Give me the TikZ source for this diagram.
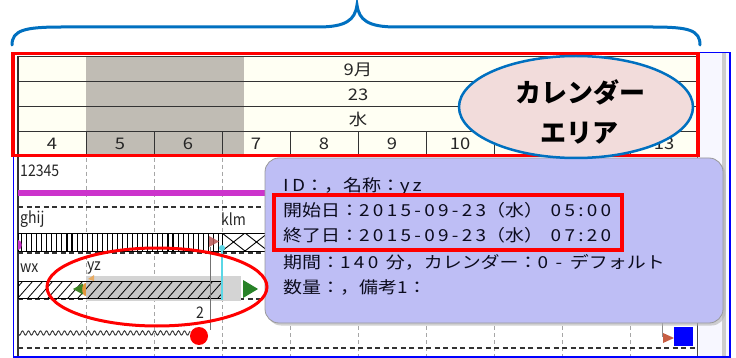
\documentclass[tikz,border=0pt]{standalone}
\usepackage{fontspec}
\newfontfamily\jpa{Noto Sans CJK JP}
\newfontfamily\jpn[FakeStretch=0.88]{Noto Sans CJK JP}
\newfontfamily\jps[FakeStretch=1.15]{Noto Sans CJK JP}
\newfontfamily\jpl[FakeStretch=1.15,LetterSpace=20]{Noto Sans CJK JP}
\definecolor{braceblue}{RGB}{0,112,192}
\definecolor{hdr}{RGB}{255,255,243}
\definecolor{shadec}{RGB}{192,188,180}
\definecolor{magc}{RGB}{204,51,204}
\definecolor{tipc}{RGB}{190,190,245}
\definecolor{pinkc}{RGB}{242,220,219}
\definecolor{txtc}{RGB}{12,12,30}
\definecolor{brn}{RGB}{185,85,85}
\definecolor{cyanc}{RGB}{90,215,230}
\definecolor{greenc}{RGB}{40,130,40}
\definecolor{orgc}{RGB}{225,150,60}
\tikzset{
  hline/.style={draw=black!80, line width=0.9pt},
  vdash/.style={draw=black!35, line width=0.8pt, dash pattern=on 4pt off 3pt},
  hdash/.style={draw=black!80, line width=1.1pt, dash pattern=on 5pt off 3.5pt},
  hnum/.style={font=\jps\fontsize{16}{18}\selectfont, text=black!85, inner sep=0},
  blabel/.style={font=\jpn\fontsize{16}{18}\selectfont, text=black!85, inner sep=0, anchor=west},
  tipline/.style={font=\jps\fontsize{16.5}{19}\selectfont, text=txtc, inner sep=0, anchor=west},
  calltext/.style={font=\jpa\bfseries\fontsize{26}{30}\selectfont, inner sep=0},
  redbox/.style={draw=red, line width=3.5pt},
}
\begin{document}
\begin{tikzpicture}[x=1pt,y=-1pt]
\useasboundingbox (0,0) rectangle (736,358);
\fill[white] (0,0) rectangle (736,358);
% right strip
\fill[blue!3!white] (699,53) rectangle (730,357);
\fill[black!20] (722,53) rectangle (726,357);
% header
\fill[hdr] (18,56) rectangle (697,155);
\fill[shadec] (86,56) rectangle (244,155);
\foreach \yy in {56,81.7,106.7,131.5} \draw[hline] (18,\yy) -- (697,\yy);
\foreach \k in {1,...,9} \draw[hline] (18+68*\k,131.5) -- (18+68*\k,155);
\draw[hline] (697,56) -- (697,155);
\node[hnum] (mon) at (358,70) {9月};
\node[hnum] (day) at (358,94.5) {23};
\node[hnum] (wd) at (358,119) {水};
\foreach \n [count=\i from 0] in {4,...,10} {
  \node[hnum] (h\n) at (52+68*\i,143.5) {\n};
}
\node[hnum] (h13) at (664,143.5) {13};
% body grid
\foreach \k in {0,...,8} \draw[vdash] (86+68*\k,158) -- (86+68*\k,357);
\foreach \yy in {207,253,299,348} \draw[hdash] (18,\yy) -- (697,\yy);
\draw[black!80, line width=1.2pt] (18,56) -- (18,357);
\draw[black!70, line width=1pt] (697,155) -- (697,357);
% row 1
\node[blabel] (r1) at (20,171) {12345};
\fill[magc] (18,190) rectangle (697,196);
% row 2
\node[blabel] (r2) at (20,219) {ghij};
\node[blabel] (r2b) at (221,219) {klm};
\draw[fill=white, line width=1pt] (18,233) rectangle (222,251);
\foreach \i in {0,...,39} \draw[line width=1.1pt] (21.5+5.05*\i,233) -- ++(0,18);
\begin{scope}
  \clip (222,233) rectangle (268,251);
  \foreach \k in {0,1,2} {
    \draw[line width=0.9pt] (222+23*\k,233) -- (245+23*\k,251);
    \draw[line width=0.9pt] (222+23*\k,251) -- (245+23*\k,233);
  }
\end{scope}
\draw[line width=1pt] (222,233) rectangle (272,251);
\fill[magc] (18,240) .. controls (23,240) and (23,250) .. (18,250) -- cycle;
\fill[brn, opacity=0.85] (209,236) -- (219,241.5) -- (209,247) -- cycle;
% row 3
\node[blabel] (r3) at (20,268) {wx};
\node[blabel] (r3b) at (87,268) {yz};
\fill[black!17] (86,276) rectangle (241,301);
\fill[white] (18,281) rectangle (86,298);
\fill[black!22] (86,281) rectangle (222,298);
\begin{scope}
  \clip (18,281) rectangle (222,298);
  \foreach \x in {8,18,...,228} \draw[line width=0.8pt] (\x,298) -- (\x+15,281);
\end{scope}
\draw[line width=1pt] (18,281) rectangle (222,298);
\fill[greenc!80!olive] (73,289) -- (83,283.5) -- (83,294.5) -- cycle;
\fill[orgc] (86,282.5) .. controls (80.5,282.5) and (80.5,295.5) .. (86,295.5) -- cycle;
\fill[orgc!80] (88,279) -- (94,275) -- (94,281) -- cycle;
\fill[greenc] (243,280) -- (258,289) -- (243,298) -- cycle;
\draw[black!55, line width=1pt] (210,247) -- (210,330);
\draw[cyanc, line width=2pt] (222,246) -- (222,300);
\fill[cyanc] (222,248) circle (3);
% row 4
\node[blabel, anchor=center] (r4) at (200,313) {2};
\draw[black!80, line width=0.9pt] plot[domain=18:190, samples=240] (\x,{333+2.2*sin(\x*60)});
\fill[red] (199,336) circle (9);
% bottom right
\draw[black!45, line width=0.8pt] (662,323) -- (662,337);
\fill[brn!80!orange] (663,333) -- (674,338) -- (663,343) -- cycle;
\fill[blue] (674,327) rectangle (693,346);
% blue frame
\draw[blue, line width=1.5pt] (13.5,52.5) rectangle (730,357);
% tooltip
\fill[black!30, opacity=0.6, rounded corners=14pt] (267,160.5) rectangle (725.5,325.5);
\draw[fill=tipc, draw=black!40, line width=0.8pt, rounded corners=14pt] (265,158) rectangle (723,323);
\node[tipline] (t1) at (283,186) {{\jpl ID}：，名称：{\jpl yz}};
\node[tipline] (t2) at (283,210.5) {開始日：{\jpl 2015-09-23}（水）{\jpl\ 05:00}};
\node[tipline] (t3) at (283,235) {終了日：{\jpl 2015-09-23}（水）{\jpl\ 07:20}};
\node[tipline] (t4) at (283,262.5) {期間：{\jpl 140 }分，カレンダー：{\jpl 0 - }デフォルト};
\node[tipline] (t5) at (283,287.5) {数量：，備考{\jpl 1}：};
\draw[redbox] (274,195) rectangle (622,250);
% header red box
\draw[redbox] (13,53.5) rectangle (698,155.5);
% callouts
\draw[braceblue, line width=2.5pt, fill=pinkc] (576,107) ellipse [x radius=117, y radius=51];
\node[calltext] (c1) at (580,92) {カレンダー};
\node[calltext] (c2) at (579,133) {エリア};
\draw[red, line width=3pt] (157,287) ellipse [x radius=110, y radius=39];
% brace
\draw[braceblue, line width=3pt, line cap=round]
  (12,45) .. controls (12,30) and (25,27) .. (62,27) -- (318,27)
  .. controls (346,27) and (355,20) .. (357,5)
  .. controls (359,20) and (368,27) .. (396,27) -- (652,27)
  .. controls (689,27) and (700,30) .. (700,45);
\end{tikzpicture}
\end{document}
